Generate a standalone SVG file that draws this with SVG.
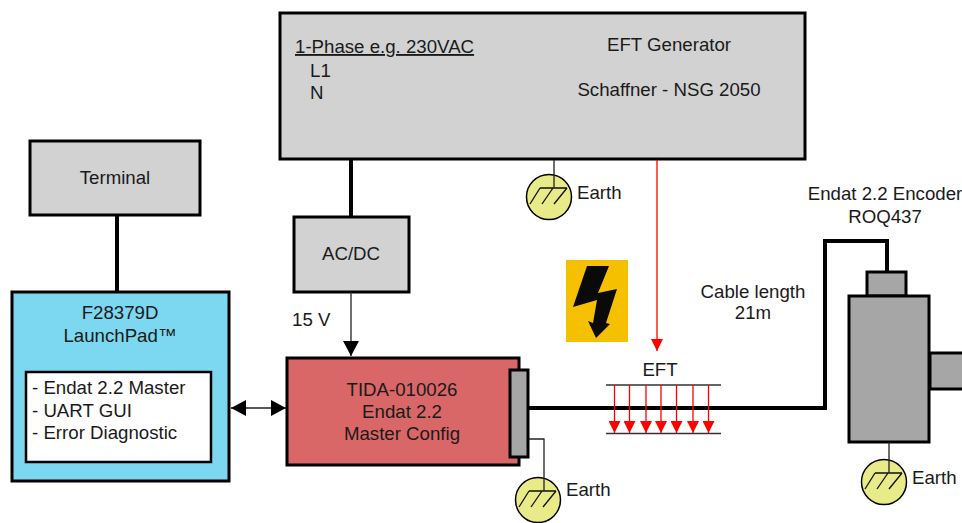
<svg xmlns="http://www.w3.org/2000/svg" width="962" height="523" viewBox="0 0 962 523">
<style>
text{font-family:"Liberation Sans",Arial,sans-serif;font-size:18.67px;fill:#1a1a1a}
.m{text-anchor:middle}
.box{stroke:#000;stroke-width:3}
.g1{fill:#d2d2d2}
.g2{fill:#a6a6a6}
.thick{fill:none;stroke:#000;stroke-width:4}
.thin{fill:none;stroke:#222;stroke-width:1.3}
.red{fill:none;stroke:#f00;stroke-width:1.3}
.rule{stroke:#333;stroke-width:1.5}
.gc{fill:#e9ea88;stroke:#000;stroke-width:1.5}
.gs{fill:none;stroke:#111;stroke-width:1.3}
</style>
<defs>
<marker id="ra" markerUnits="userSpaceOnUse" markerWidth="13" markerHeight="12" refX="12" refY="6" orient="auto"><path d="M0,0L12,6L0,12z" fill="#f00"/></marker>
<marker id="ka" markerUnits="userSpaceOnUse" markerWidth="15" markerHeight="16" refX="15" refY="8" orient="auto-start-reverse"><path d="M0,0L15,8L0,16z" fill="#000"/></marker>
<g id="gnd"><circle cx="0" cy="0" r="22.500" class="gc"/><path class="gs" d="M-9,-9H18M-9,-9L-19,7M4,-9L-7,7M18,-9L5,7"/></g>
</defs>
<g id="eft-generator"><rect x="280" y="13" width="525" height="146" class="box g1"/>
<text x="295" y="53" text-decoration="underline">1-Phase e.g. 230VAC</text><text x="310" y="77">L1</text><text x="310" y="99">N</text>
<text x="669" y="51" class="m">EFT Generator</text><text x="669" y="96" class="m">Schaffner - NSG 2050</text></g>
<g id="terminal"><rect x="30" y="141" width="170" height="74" class="box g1"/><text x="115" y="184" class="m">Terminal</text></g>
<g id="acdc"><rect x="294" y="217" width="115" height="75" class="box g1"/><text x="351" y="260" class="m">AC/DC</text></g>
<text x="292" y="326">15 V</text>
<g id="launchpad"><rect x="12" y="292" width="217" height="189" class="box" fill="#7cd8f0"/>
<text x="120" y="319" class="m">F28379D</text><text x="120" y="342" class="m">LaunchPad™</text>
<rect x="26" y="372" width="185" height="90" fill="#fff" stroke="#000" stroke-width="2.500"/>
<text x="32" y="394">- Endat 2.2 Master</text><text x="32" y="417">- UART GUI</text><text x="32" y="439">- Error Diagnostic</text></g>
<g id="tida"><rect x="287" y="358" width="232" height="107" class="box" fill="#d96767"/>
<text x="402" y="396" class="m">TIDA-010026</text><text x="402" y="418" class="m">Endat 2.2</text><text x="402" y="440" class="m">Master Config</text>
<rect x="510" y="370" width="18" height="87" class="box g2"/></g>
<g id="earth1"><use href="#gnd" x="549" y="197"/><text x="577" y="199">Earth</text></g>
<g id="earth2"><use href="#gnd" x="538" y="500"/><text x="566" y="496">Earth</text></g>
<g id="earth3"><use href="#gnd" x="884" y="482"/><text x="912" y="484">Earth</text></g>
<g id="warning"><rect x="566" y="260" width="62" height="82" fill="#f4c000"/>
<path d="M587,266H609L598,293L617,289L606,323L610,324L596,338L588,321L593,323L597,300L573,307z" fill="#0a0a0a"/></g>
<g id="encoder"><rect x="867" y="272" width="39" height="24" class="box g2"/><rect x="930" y="353" width="34" height="36" class="box g2"/><rect x="849" y="296" width="80" height="146" class="box g2"/></g>
<text x="885" y="200" class="m">Endat 2.2 Encoder</text><text x="885" y="223" class="m">ROQ437</text>
<text x="753" y="298" class="m">Cable length</text><text x="753" y="319" class="m">21m</text>
<text x="660" y="376" class="m">EFT</text>
<g id="connectors">
<path class="thick" d="M351,159V217M117,215V292"/>
<path class="thin" d="M351,292V356" marker-end="url(#ka)"/>
<path class="thin" d="M231,408H286" marker-start="url(#ka)" marker-end="url(#ka)"/>
<path class="thick" d="M529,408H825V241H887V272"/>
<path class="thin" d="M554,160V188M529,439H544V491M889,442V473"/>
<path class="red" d="M657,160V351" marker-end="url(#ra)"/>
<path class="rule" d="M606,385H721M606,433.500H721"/>
<g class="red" marker-end="url(#ra)">
<path d="M614.500,385V433"/><path d="M629.500,385V433"/><path d="M646,385V433"/><path d="M661,385V433"/><path d="M676.500,385V433"/><path d="M693,385V433"/><path d="M708.500,385V433"/>
</g>
</g>
</svg>
